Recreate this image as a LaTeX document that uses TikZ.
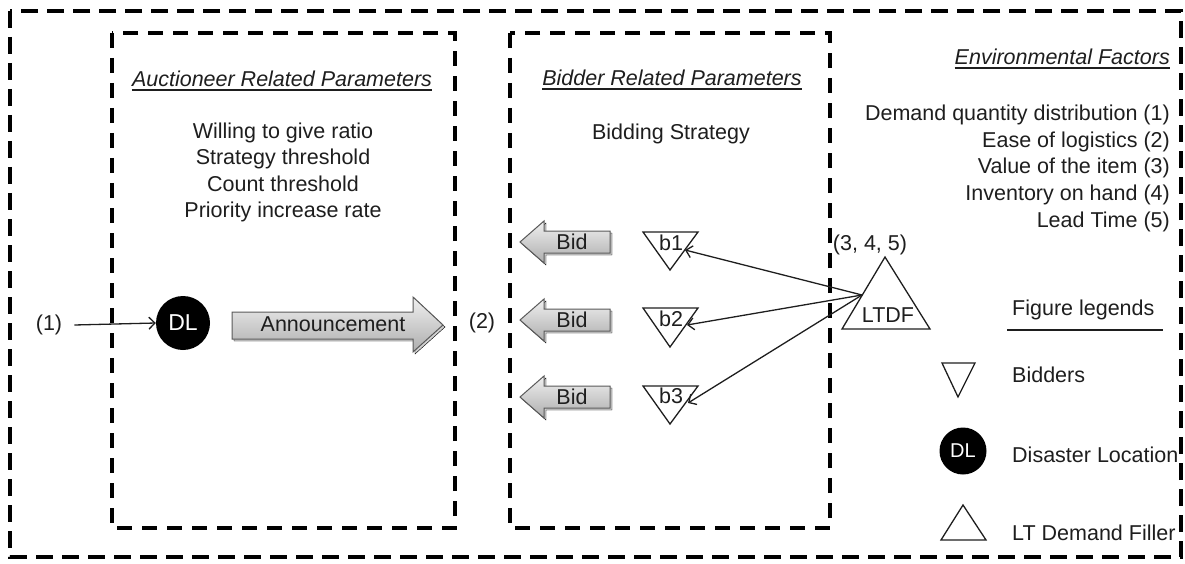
\documentclass[tikz,border=0pt]{standalone}
\usepackage{fontspec}
\setmainfont{Liberation Sans}
\usetikzlibrary{arrows.meta}
\definecolor{ink}{HTML}{1E1E1E}
\begin{document}
\begin{tikzpicture}[x=1pt,y=-1pt,
  every node/.style={inner sep=0pt, text=ink},
  font=\fontsize{21.5}{26.6}\selectfont,
  outerbox/.style={line width=4pt, dash pattern=on 17pt off 9pt},
  innerbox/.style={line width=3.4pt, dash pattern=on 15pt off 10pt},
  heading/.style={font=\fontsize{21.5}{26.6}\selectfont\itshape},
  rule/.style={draw=ink, line width=1.3pt},
  tri/.style={draw=ink, line width=1.3pt, line join=miter},
  link/.style={draw=ink, line width=1.3pt, -{Straight Barb[length=6pt,width=12pt]}},
  fat/.style={draw=black!65, line width=1pt, top color=black!6, bottom color=black!32},
  fatshadow/.style={fill=black!18},
  dl/.style={circle, fill=black, text=white}
]
\useasboundingbox (0,0) rectangle (1185,564);

% frames
\draw[outerbox] (10,11) rectangle (1181,557);
\draw[innerbox] (112,33) rectangle (455,528);
\draw[innerbox] (510,33) rectangle (830,528);

% auctioneer panel (a multi-line node sits on the baseline of its last line)
\node[heading, anchor=base] (auct) at (282,87) {Auctioneer Related Parameters};
\draw[rule] ([yshift=-3pt]auct.base west) -- ([yshift=-3pt]auct.base east);
\node[anchor=base, align=center] (aparams) at (283,218)
  {Willing to give ratio\\Strategy threshold\\Count threshold\\Priority increase rate};

% bidder panel
\node[heading, anchor=base] (bidh) at (672,86) {Bidder Related Parameters};
\draw[rule] ([yshift=-3pt]bidh.base west) -- ([yshift=-3pt]bidh.base east);
\node[anchor=base] (bstrat) at (671,140) {Bidding Strategy};

% environmental factors
\node[heading, anchor=base east] (envh) at (1170,65) {Environmental Factors};
\draw[rule] ([yshift=-3pt]envh.base west) -- ([yshift=-3pt]envh.base east);
\node[anchor=base east, align=right] (env) at (1170,227)
  {Demand quantity distribution (1)\\Ease of logistics (2)\\Value of the item (3)\\Inventory on hand (4)\\Lead Time (5)};

% disaster location and announcement
\node (in1) at (49,325) {(1)};
\node[dl, minimum size=54pt, font=\fontsize{23}{26}\selectfont] (DL) at (183,323) {DL};
\draw[link] ([xshift=12pt]in1.east) -- (DL.west);
\draw[fatshadow] (234,314) -- (415,314) -- (415,299) -- (445,327) -- (415,354) -- (415,341) -- (234,341) -- cycle;
\draw[fat] (232,312) -- (413,312) -- (413,297) -- (443,325) -- (413,352) -- (413,339) -- (232,339) -- cycle;
\node (ann) at (333,324) {Announcement};
\node (in2) at (482,323) {(2)};

% bid arrows
\foreach \c/\n in {242/1,320/2,397/3}{
  \draw[fatshadow] (522,\c+2) -- (546,\c-19) -- (546,\c-9) -- (612,\c-9) -- (612,\c+13) -- (546,\c+13) -- (546,\c+23) -- cycle;
  \draw[fat] (520,\c) -- (544,\c-21) -- (544,\c-11) -- (610,\c-11) -- (610,\c+11) -- (544,\c+11) -- (544,\c+21) -- cycle;
  \node (bid\n) at (572,\c) {Bid};
}

% bidders
\draw[tri] (643,232) -- (698,232) -- (670,270) -- cycle;
\draw[tri] (643,308) -- (698,308) -- (670,347) -- cycle;
\draw[tri] (643,386) -- (698,386) -- (670,424) -- cycle;
\node[anchor=base] (b1) at (671,250) {b1};
\node[anchor=base] (b2) at (671,326) {b2};
\node[anchor=base] (b3) at (671,403) {b3};

% long-term demand filler
\draw[tri] (885,257) -- (930,329) -- (842,329) -- cycle;
\node[anchor=base] (ltdf) at (888,322) {LTDF};
\node[anchor=base] (lab345) at (870,250) {(3, 4, 5)};
\coordinate (src) at (862,295);
\coordinate (t1) at (685,250);
\coordinate (t2) at (687,325);
\coordinate (t3) at (688,403);
\draw[link] (src) -- (t1);
\draw[link] (src) -- (t2);
\draw[link] (src) -- (t3);

% legend
\node[anchor=base west] (legh) at (1012,315) {Figure legends};
\draw[rule] (1007,330) -- (1163,330);
\draw[tri] (942,363) -- (975,363) -- (958,397) -- cycle;
\node[anchor=base west] (lbid) at (1012,382) {Bidders};
\node[dl, minimum size=47pt, font=\fontsize{20}{23}\selectfont] (ldl) at (963,451) {DL};
\node[anchor=base west] (ldis) at (1012,462) {Disaster Location};
\draw[tri] (963,505) -- (986,540) -- (941,540) -- cycle;
\node[anchor=base west] (llt) at (1012,540) {LT Demand Filler};
\end{tikzpicture}
\end{document}
